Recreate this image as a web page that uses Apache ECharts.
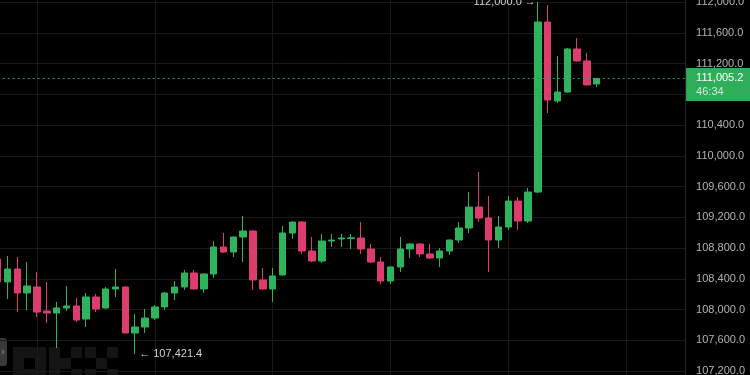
<!DOCTYPE html>
<html>
<head>
<meta charset="utf-8">
<script src="https://cdn.jsdelivr.net/npm/echarts@6/dist/echarts.min.js"></script>
<style>
html,body{margin:0;padding:0;background:#000;}
#chart{width:750px;height:375px;}
</style>
</head>
<body>
<div id="chart"></div>
<script>
// ---- data (hourly candles, BTC/USDT style) ----
const openVals  = [108657,108358,108527,108215,108293,107980,107954,108020,108046,107876,108163,108020,108267,108293,107694,107772,107889,108033,108215,108293,108475,108267,108462,108813,108748,108943,109021,108384,108267,108449,108995,109138,108761,108631,108891,108917,108925,108930,108787,108618,108371,108553,108787,108852,108722,108670,108761,108904,109060,109333,109190,108904,109073,109411,109151,109528,111740,110712,110829,111389,111233,110934];
const closeVals = [108358,108527,108215,108306,107967,107954,108020,108046,107863,108163,108007,108267,108293,107694,107772,107889,108033,108215,108293,108475,108267,108462,108813,108748,108943,109021,108384,108267,108436,108995,109138,108761,108631,108891,108904,108930,108932,108787,108618,108371,108553,108787,108852,108722,108670,108761,108904,109060,109333,109190,108904,109073,109411,109151,109528,111740,110725,110829,111389,111233,110921,111005.2];
const lowVals   = [108332,108137,107967,107993,107902,107824,107499,107980,107837,107772,107967,108007,108163,107690,107421.4,107694,107863,107993,108124,108254,108260,108215,108410,108735,108683,108618,108254,108254,108098,108440,108917,108722,108618,108605,108813,108813,108787,108722,108605,108332,108332,108488,108670,108683,108657,108553,108709,108865,108995,109138,108488,108800,109034,109034,109125,109515,110556,110686,110820,111225,110915,110894];
const highVals  = [108683,108696,108683,108618,108488,108358,108098,108306,108150,108215,108202,108293,108527,108300,107941,108007,108059,108228,108371,108514,108514,108470,108891,108995,108950,109216,109028,108540,108540,109086,109145,109145,108943,108982,108982,108982,108982,109138,108852,108683,108560,108943,108865,108865,108852,108800,108910,109138,109528,109789,109476,109216,109476,109463,109580,112000,111961,111298,111402,111532,111337,111010];
const futureSlots = 9;           // empty slots to the right of the last candle
const countdown = '46:34';
const yTicksMin = 106800, yTicksMax = 112400, yTickStep = 400;

// categories (one per hourly slot)
const categories = [];
for (let i = 0; i < openVals.length + futureSlots; i++) categories.push(String(i));

const candleData = categories.map((c, i) =>
  i < openVals.length ? [openVals[i], closeVals[i], lowVals[i], highVals[i]] : '-'
);
const lastClose = closeVals[closeVals.length - 1];

const UP = '#2fb35c', DOWN = '#dd3d6d';
const fmt = v => Number(v).toLocaleString('en-US', {minimumFractionDigits: 1, maximumFractionDigits: 1});

// OKX style watermark blocks (decoration)
const U = 11, LX = 13, LY = 347;
const letters = [
  [[0,0],[1,0],[2,0],[0,1],[2,1],[0,2],[1,2],[2,2]],      // O
  [[0,0],[0,1],[0,2],[1,1],[2,0],[2,2]],                  // K
  [[0,0],[2,0],[1,1],[0,2],[2,2]]                         // X
];
const logo = [];
letters.forEach((cells, li) => cells.forEach(([cx, cy]) => logo.push({
  type: 'rect', silent: true,
  shape: {x: LX + li * (3 * U + 3) + cx * U, y: LY + cy * U, width: U, height: U},
  style: {fill: '#141414'}, z: -1
})));

const chart = echarts.init(document.getElementById('chart'));
chart.setOption({
  animation: false,
  backgroundColor: '#000',
  grid: {left: -2.3, right: 64.9, top: -28.75, bottom: -26.75, outerBoundsMode: 'none', containLabel: false},
  xAxis: {
    type: 'category',
    data: categories,
    boundaryGap: false,
    axisLine: {show: false},
    axisTick: {show: false},
    axisLabel: {show: false},
    splitLine: {
      show: true,
      interval: (idx) => (idx - 4) % 12 === 0,
      lineStyle: {color: '#1a1a1a', width: 1}
    }
  },
  yAxis: {
    type: 'value',
    position: 'right',
    min: yTicksMin, max: yTicksMax, interval: yTickStep,
    axisLine: {show: true, lineStyle: {color: '#262626'}},
    axisTick: {show: false},
    axisLabel: {
      color: '#b3b3b3', fontSize: 11, margin: 11,
      fontFamily: 'Liberation Sans, Arial, sans-serif',
      formatter: v => fmt(v)
    },
    splitLine: {lineStyle: {color: '#1a1a1a', width: 1}}
  },
  graphic: [
    ...logo,
    {type: 'rect', silent: true, shape: {x: -4, y: 338, width: 11, height: 28, r: 3}, style: {fill: '#3a3a3a'}},
    {type: 'text', silent: true, x: 1, y: 347, style: {text: '›', fill: '#9a9a9a', fontSize: 10, fontFamily: 'DejaVu Sans'}}
  ],
  series: [{
    type: 'candlestick',
    data: candleData,
    barWidth: 7,
    itemStyle: {color: UP, color0: DOWN, borderColor: UP, borderColor0: DOWN, borderWidth: 1},
    markPoint: {
      symbol: 'circle', symbolSize: 0,
      label: {color: '#d0d0d0', fontSize: 11, fontFamily: 'Liberation Sans, Arial, sans-serif'},
      data: [
        {type: 'max', valueDim: 'highest',
         label: {show: true, position: 'left', distance: 2, formatter: p => fmt(p.value) + ' →'}},
        {type: 'min', valueDim: 'lowest',
         label: {show: true, position: 'right', distance: 4, formatter: p => '← ' + fmt(p.value)}}
      ]
    },
    markLine: {
      silent: true,
      symbol: ['none', 'none'],
      lineStyle: {color: '#2f9e58', type: [2, 3], width: 1},
      label: {
        show: true, position: 'end', distance: 1, offset: [0, 6],
        backgroundColor: '#2eae5a', padding: [3, 12, 2, 10],
        formatter: p => '{a|' + fmt(p.value) + '}\n{b|' + countdown + '}',
        rich: {
          a: {color: '#ffffff', fontSize: 11, lineHeight: 14, fontFamily: 'Liberation Sans, Arial, sans-serif'},
          b: {color: '#cdeed8', fontSize: 11, lineHeight: 14, fontFamily: 'Liberation Sans, Arial, sans-serif'}
        }
      },
      data: [{yAxis: lastClose}]
    }
  }]
});
</script>
</body>
</html>
